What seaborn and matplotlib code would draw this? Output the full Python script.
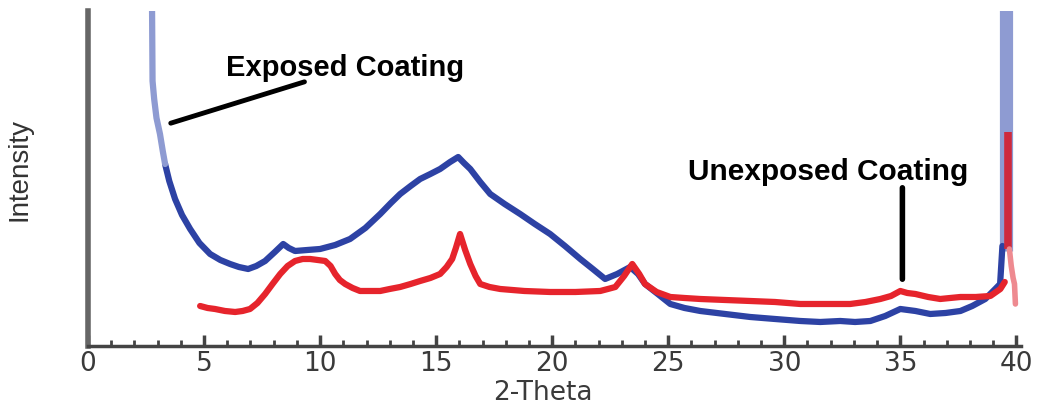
import numpy as np
import pandas as pd
import matplotlib
matplotlib.use("Agg")
import matplotlib.pyplot as plt
import seaborn as sns

# 2-theta (deg) and intensity (a.u.)
exposed_theta = [3.32, 3.50, 3.75, 4.05, 4.40, 4.80, 5.26, 5.70, 6.12, 6.50, 6.90, 7.25,
                 7.63, 8.05, 8.41, 8.65, 8.92, 9.45, 10.0, 10.65, 11.29, 11.95, 12.59,
                 13.05, 13.45, 13.90, 14.31, 14.75, 15.17, 15.60, 15.95, 16.20, 16.47,
                 16.90, 17.33, 17.95, 18.62, 19.25, 19.91, 20.55, 21.21, 21.75, 22.28,
                 22.80, 23.36, 23.70, 24.00, 24.55, 25.09, 25.70, 26.38, 27.45, 28.53,
                 29.60, 30.69, 31.55, 32.41, 33.05, 33.71, 34.35, 35.00, 35.65, 36.29,
                 36.95, 37.59, 38.10, 38.66, 39.09, 39.30, 39.40]
exposed_int = [182, 165, 147, 131, 117, 103, 92, 86, 82, 79, 77, 80,
               85, 94, 102, 98, 95, 96, 97, 101, 107, 118, 132,
               143, 152, 160, 167, 172, 177, 184, 189, 183, 177,
               164, 152, 142, 132, 122, 112, 100, 87, 77, 67,
               72, 79, 72, 62, 52, 42, 38, 35, 32, 29,
               27, 25, 24, 25, 24, 25, 30, 37, 35, 32,
               33, 35, 40, 47, 57, 62, 100]

# steep parts (rendered lighter in the reference)
exposed_low_theta = [2.74, 2.78, 2.85, 2.95, 3.10, 3.22, 3.32]
exposed_low_int = [400, 265, 247, 228, 212, 195, 182]
exposed_spike_theta = [39.56, 39.56]
exposed_spike_int = [95, 400]

unexposed_theta = [4.83, 5.15, 5.47, 5.90, 6.34, 6.66, 6.98, 7.30, 7.63, 7.95, 8.28,
                   8.60, 8.92, 9.25, 9.57, 9.90, 10.22, 10.45, 10.65, 10.85, 11.08,
                   11.40, 11.72, 12.15, 12.59, 13.00, 13.45, 13.90, 14.31, 14.75,
                   15.17, 15.45, 15.69, 15.85, 16.03, 16.25, 16.47, 16.70, 16.90,
                   17.30, 17.76, 18.80, 19.91, 21.00, 22.07, 22.40, 22.72, 23.10,
                   23.45, 23.75, 24.00, 24.50, 25.09, 25.70, 26.38, 27.45, 28.53,
                   29.60, 30.69, 31.75, 32.84, 33.50, 34.14, 34.60, 35.00, 35.30,
                   35.65, 36.20, 36.72, 37.15, 37.59, 38.25, 38.88, 39.31, 39.50]
unexposed_int = [40, 38, 37, 35, 34, 35, 37, 43, 52, 62, 72,
                 80, 85, 87, 87, 86, 85, 80, 72, 66, 62,
                 58, 55, 55, 55, 57, 59, 62, 65, 68,
                 72, 79, 87, 98, 112, 96, 82, 70, 62,
                 59, 57, 55, 54, 54, 55, 57, 59, 70,
                 82, 72, 62, 54, 49, 48, 47, 46, 45,
                 44, 42, 42, 42, 44, 47, 50, 55, 53,
                 52, 49, 47, 48, 49, 49, 50, 57, 64]
unexposed_spike_theta = [39.64, 39.64]
unexposed_spike_int = [97, 214]
unexposed_tail_theta = [39.70, 39.78, 39.86, 39.92, 39.96]
unexposed_tail_int = [97, 80, 68, 62, 42]

BLUE = "#2d42a4"
LIGHT_BLUE = "#8e9bd2"
RED = "#e6242c"
DARK_RED = "#cf2a3d"
PINK = "#ee8a90"

sns.set_theme(style="white")
plt.rcParams["font.family"] = ["DejaVu Sans"]

fig = plt.figure(figsize=(10.53, 4.10), dpi=100)
ax = fig.add_axes([0.0836, 0.1537, 0.886, 0.817])

exposed = pd.DataFrame({"theta": exposed_theta, "intensity": exposed_int})
unexposed = pd.DataFrame({"theta": unexposed_theta, "intensity": unexposed_int})

ax.plot(exposed_spike_theta, exposed_spike_int, color=LIGHT_BLUE, lw=9.5,
        solid_capstyle="butt")
sns.lineplot(data=exposed, x="theta", y="intensity", color=BLUE, lw=4.5,
             estimator=None, sort=False, ax=ax)
ax.plot(exposed_low_theta, exposed_low_int, color=LIGHT_BLUE, lw=4.5)
sns.lineplot(data=unexposed, x="theta", y="intensity", color=RED, lw=4.5,
             estimator=None, sort=False, ax=ax)
ax.plot(unexposed_spike_theta, unexposed_spike_int, color=DARK_RED, lw=5.5,
        solid_capstyle="butt")
ax.plot(unexposed_tail_theta, unexposed_tail_int, color=PINK, lw=4)

ax.set_xlim(0, 40.2)
ax.set_ylim(0, 335)

# annotations
label_font = ["Liberation Sans Narrow", "Liberation Sans", "DejaVu Sans"]
ax.annotate("", xy=(3.45, 222), xytext=(9.44, 265),
            arrowprops=dict(arrowstyle="-", color="black", lw=3.5))
ax.text(11.08, 279, "Exposed Coating", ha="center", va="center",
        fontsize=21, fontweight="bold", family=label_font, color="black")
ax.annotate("", xy=(35.09, 64), xytext=(35.09, 161),
            arrowprops=dict(arrowstyle="-", color="black", lw=4))
ax.text(31.9, 175, "Unexposed Coating", ha="center", va="center",
        fontsize=21.5, fontweight="bold", family=label_font, color="black")

# axes styling
for side in ["top", "right"]:
    ax.spines[side].set_visible(False)
ax.spines["left"].set_color("#666666")
ax.spines["left"].set_linewidth(4)
ax.spines["bottom"].set_color("#444444")
ax.spines["bottom"].set_linewidth(2.5)

ax.set_xticks(np.arange(0, 41, 5))
ax.set_xticks(np.arange(0, 41, 1), minor=True)
ax.set_yticks([])
ax.tick_params(axis="x", which="major", direction="in", length=8, width=2.5,
               color="#444444", labelsize=19, labelcolor="#3a3a3a", pad=3, bottom=True)
ax.tick_params(axis="x", which="minor", direction="in", length=4, width=2,
               color="#444444", bottom=True)

ax.set_xlabel("2-Theta", fontsize=19, color="#3a3a3a")
ax.xaxis.set_label_coords(0.488, -0.098)
ax.set_ylabel("Intensity", fontsize=20, color="#333333", family=label_font)
ax.yaxis.set_label_coords(-0.06, 0.53)

fig.savefig("out.png", dpi=100, facecolor="white")
